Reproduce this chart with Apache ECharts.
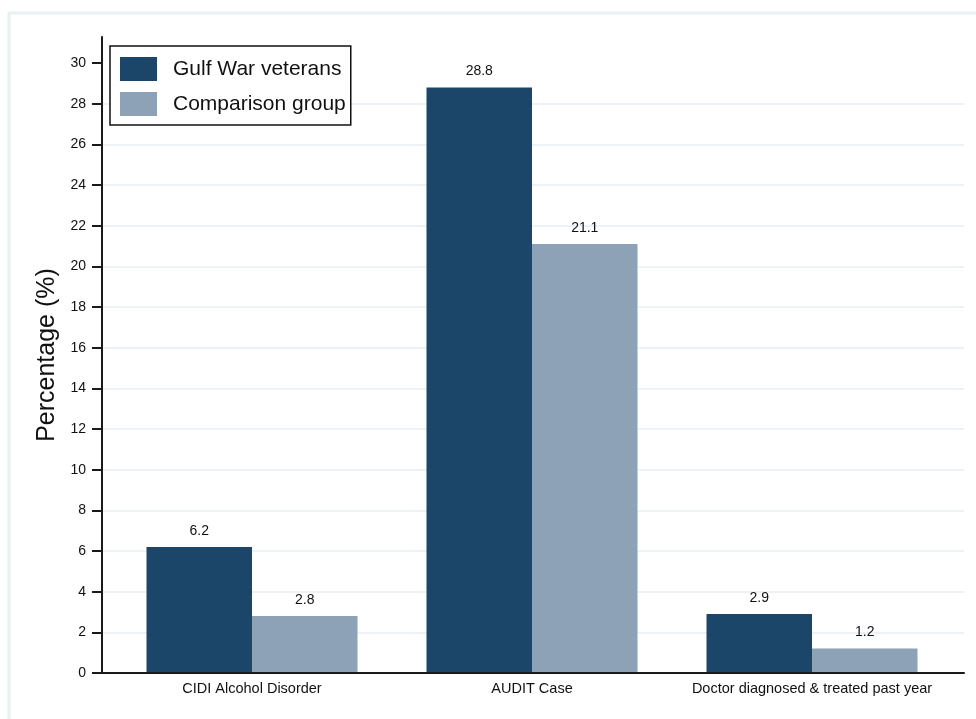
<!DOCTYPE html>
<html>
<head>
<meta charset="utf-8">
<script src="https://cdn.jsdelivr.net/npm/echarts@6/dist/echarts.min.js"></script>
<style>
html,body{margin:0;padding:0;background:#fff;}
#chart{width:976px;height:719px;}
</style>
</head>
<body>
<div id="chart"></div>
<script>
var categories = ['CIDI Alcohol Disorder', 'AUDIT Case', 'Doctor diagnosed & treated past year'];
var seriesNames = ['Gulf War veterans', 'Comparison group'];
var gulfWarValues = [6.2, 28.8, 2.9];
var comparisonValues = [2.8, 21.1, 1.2];
var yTicks = [0, 2, 4, 6, 8, 10, 12, 14, 16, 18, 20, 22, 24, 26, 28, 30];
var gridValues = yTicks.filter(function (v) { return v > 0 && v < 30; });
var yTitle = 'Percentage (%)';

var FONT = '"Liberation Sans", Arial, sans-serif';
var Y_MAX = 31.28;

var chart = echarts.init(document.getElementById('chart'), null, {renderer: 'canvas'});
chart.setOption({
  backgroundColor: '#ffffff',
  animation: false,
  textStyle: {fontFamily: FONT},
  graphic: [{
    type: 'rect',
    silent: true,
    z: -10,
    shape: {x: 9, y: 13, width: 1100, height: 900},
    style: {fill: 'none', stroke: '#e8f0f2', lineWidth: 3}
  }],
  legend: {
    orient: 'vertical',
    left: 110,
    top: 46,
    padding: [11, 5, 9, 10],
    itemWidth: 37,
    itemHeight: 24,
    itemGap: 11,
    borderColor: '#111',
    borderWidth: 1.5,
    backgroundColor: '#ffffff',
    icon: 'rect',
    selectedMode: false,
    z: 10,
    data: seriesNames,
    textStyle: {fontFamily: FONT, fontSize: 21, color: '#111', padding: [0, 0, 0, 11]}
  },
  grid: [
    {left: 102, right: 12, top: 37, bottom: 46, containLabel: false},
    {left: 112, right: 24, top: 37, bottom: 46, containLabel: false}
  ],
  xAxis: [
    {
      type: 'category', gridIndex: 0, data: categories,
      axisLine: {show: true, lineStyle: {color: '#1a1a1a', width: 2}},
      axisTick: {show: false}, axisLabel: {show: false}, splitLine: {show: false},
      z: 5
    },
    {
      type: 'category', gridIndex: 1, data: categories,
      axisLine: {show: false}, axisTick: {show: false}, splitLine: {show: false},
      axisLabel: {show: true, margin: 8, fontSize: 14.5, color: '#111', fontFamily: FONT, interval: 0}
    }
  ],
  yAxis: [
    {
      type: 'value', gridIndex: 0, min: 0, max: Y_MAX, interval: 2,
      name: yTitle, nameLocation: 'middle', nameGap: 40,
      nameTextStyle: {fontSize: 25, color: '#111', fontFamily: FONT},
      axisLine: {show: true, lineStyle: {color: '#1a1a1a', width: 2}},
      axisTick: {show: true, length: 10, lineStyle: {color: '#1a1a1a', width: 2}, customValues: yTicks},
      axisLabel: {show: true, margin: 16, fontSize: 14, color: '#111', fontFamily: FONT, customValues: yTicks},
      splitLine: {show: false},
      z: 5
    },
    {
      type: 'value', gridIndex: 1, min: 0, max: Y_MAX, interval: 2, show: false,
      splitLine: {show: false}
    }
  ],
  series: [
    {
      type: 'line', xAxisIndex: 0, yAxisIndex: 0, silent: true,
      data: categories.map(function () { return null; }),
      showSymbol: false,
      z: 0,
      markLine: {
        silent: true, symbol: 'none', label: {show: false},
        z: 0,
        lineStyle: {color: '#e6eef3', width: 1.5, type: 'solid'},
        data: gridValues.map(function (v) { return {yAxis: v}; })
      }
    },
    {
      name: seriesNames[0], type: 'bar', xAxisIndex: 1, yAxisIndex: 1,
      data: gulfWarValues, barWidth: 105.5, barGap: '0%',
      itemStyle: {color: '#1b4569'},
      label: {show: true, position: 'top', distance: 9, fontSize: 14, color: '#111', fontFamily: FONT},
      z: 3
    },
    {
      name: seriesNames[1], type: 'bar', xAxisIndex: 1, yAxisIndex: 1,
      data: comparisonValues, barWidth: 105.5, barGap: '0%',
      itemStyle: {color: '#8da2b6'},
      label: {show: true, position: 'top', distance: 9, fontSize: 14, color: '#111', fontFamily: FONT},
      z: 3
    }
  ]
});
</script>
</body>
</html>
